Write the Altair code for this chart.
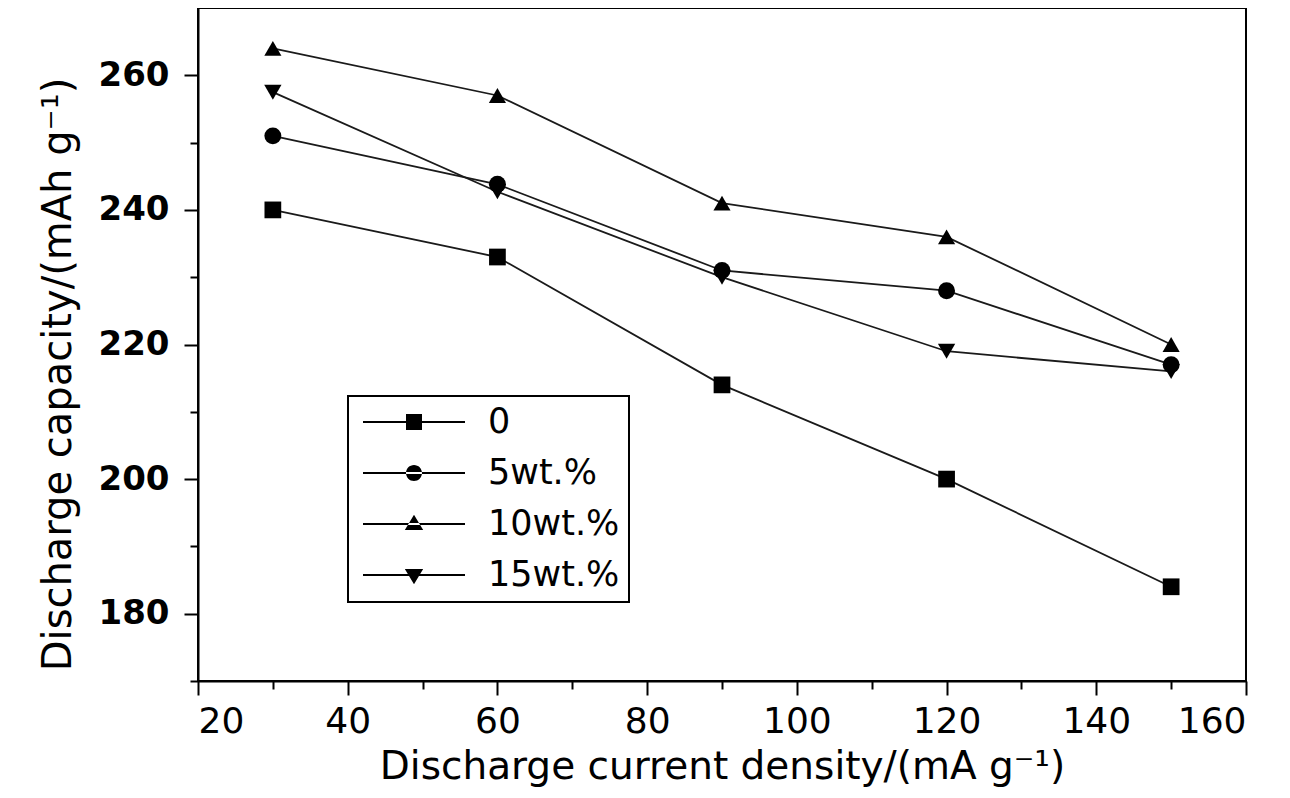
import altair as alt
import pandas as pd

# ---- data ----
density = [30, 60, 90, 120, 150]
series = ["0", "5wt.%", "10wt.%", "15wt.%"]
cap_0 = [240, 233, 214, 200, 184]
cap_5 = [251, 243.8, 231, 228, 217]
cap_10 = [264, 257, 241, 236, 220]
cap_15 = [257.5, 242.7, 230, 219, 216]

x_ticks = [20, 30, 40, 50, 60, 70, 80, 90, 100, 110, 120, 130, 140, 150, 160]
y_ticks = [170, 180, 190, 200, 210, 220, 230, 240, 250, 260]

rows = []
for name, vals in zip(series, [cap_0, cap_5, cap_10, cap_15]):
    for xv, yv in zip(density, vals):
        rows.append({"density": xv, "capacity": yv, "sample": name})
df = pd.DataFrame(rows)

FONT = "DejaVu Sans"
MAJOR = "datum.value % 20 === 0"

x_scale = alt.Scale(domain=[20, 160], nice=False, zero=False)
y_scale = alt.Scale(domain=[170, 270], nice=False, zero=False)

x_axis = alt.Axis(
    values=x_ticks, orient="bottom", grid=False,
    tickSize={"condition": {"test": MAJOR, "value": 14}, "value": 8},
    tickWidth=2, tickColor="black",
    labelExpr=f"{MAJOR} ? datum.label : ''",
    domainColor="black", domainWidth=2, labelFont=FONT, labelFontSize=36, labelColor="black",
    labelPadding=9, labelOverlap=False,
    title="Discharge current density/(mA g\u207b\u00b9)", titleFont=FONT,
    titleFontSize=39, titleFontWeight="normal", titleColor="black", titlePadding=8,
)
y_axis = alt.Axis(
    values=y_ticks, orient="left", grid=False,
    tickSize={"condition": {"test": MAJOR, "value": 14}, "value": 8},
    tickWidth=2, tickColor="black",
    labelExpr=f"{MAJOR} ? datum.label : ''",
    domainColor="black", domainWidth=2, labelFont=FONT, labelFontSize=34, labelFontWeight="bold",
    labelColor="black", labelPadding=15, labelOverlap=False,
    title="Discharge capacity/(mAh g\u207b\u00b9)", titleY=366,
    titleFont=FONT, titleFontSize=40, titleFontWeight="normal", titleColor="black", titlePadding=20,
)

base = alt.Chart(df)

lines = base.mark_line(color="#1a1a1a", strokeWidth=1.8).encode(
    x=alt.X("density:Q", scale=x_scale, axis=x_axis),
    y=alt.Y("capacity:Q", scale=y_scale, axis=y_axis),
    detail="sample:N",
)

points = base.mark_point(filled=True, color="black", opacity=1).encode(
    x=alt.X("density:Q", scale=x_scale),
    y=alt.Y("capacity:Q", scale=y_scale),
    shape=alt.Shape("sample:N", scale=alt.Scale(domain=series,
                    range=["square", "circle", "triangle-up", "triangle-down"]), legend=None),
    size=alt.Size("sample:N", scale=alt.Scale(domain=series, range=[280, 300, 400, 400]), legend=None),
)

k = 0.157
t = 0.18
h = 0.018
bar = f"M-1,-{h}H1V{h}H-1Z"
legend_paths = [
    f"{bar}M-{k},-{k}H{k}V{k}H-{k}Z",
    f"{bar}M-{k},0A{k},{k} 0 1,0 {k},0A{k},{k} 0 1,0 -{k},0Z",
    f"{bar}M-{t},0.12L{t},0.12L0,-{t}Z",
    f"{bar}M-{t},-0.12L{t},-0.12L0,{t}Z",
]

legend_layer = base.mark_point(filled=True, color="black", opacity=0).encode(
    x=alt.X("density:Q", scale=x_scale),
    y=alt.Y("capacity:Q", scale=y_scale),
    shape=alt.Shape("sample:N", scale=alt.Scale(domain=series, range=legend_paths),
                    legend=alt.Legend(
                        title=None, orient="none", legendX=150, legendY=388,
                        strokeColor="black", fillColor="white", padding=9,
                        symbolSize=10404, symbolOffset=6, symbolStrokeWidth=0,
                        symbolFillColor="black", symbolOpacity=1, clipHeight=34,
                        labelFont=FONT, labelFontSize=35, labelColor="black",
                        labelOffset=23, rowPadding=16,
                    )),
)

chart = alt.layer(lines, points, legend_layer).resolve_scale(
    shape="independent", size="independent"
).properties(
    width=1048, height=673,
    autosize=alt.AutoSizeParams(type="none"),
    padding={"left": 190, "top": 0, "right": 30, "bottom": 110},
    background="white",
).configure_view(stroke="black", strokeWidth=2).configure_legend(strokeWidth=2)

chart.save("out.html", embed_options={"renderer": "svg", "actions": False})
